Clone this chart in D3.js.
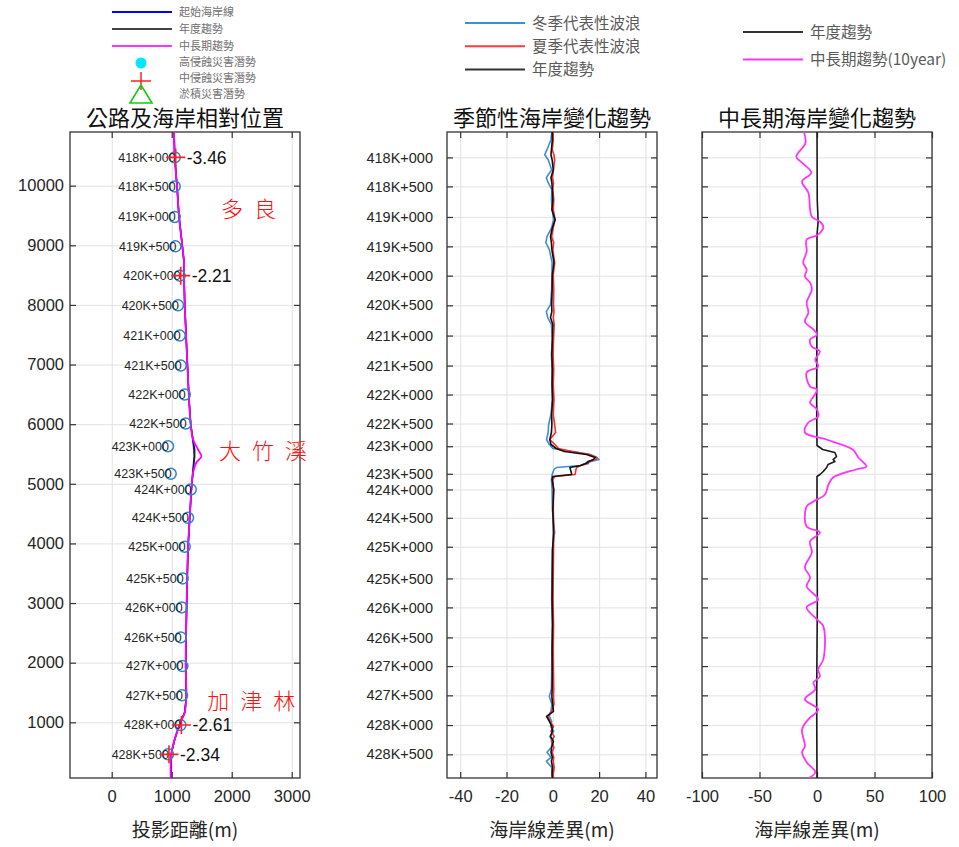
<!DOCTYPE html>
<html>
<head>
<meta charset="utf-8">
<title>海岸變化趨勢</title>
<script src="https://cdn.jsdelivr.net/npm/d3@7"></script>
<style>
  body { margin: 0; background: #fff; }
  .lat { font-family: "Liberation Sans", Arial, sans-serif; }
  .cjk { font-family: "Noto Sans CJK TC", "Noto Sans", sans-serif; }
</style>
</head>
<body>
<svg id="chart" width="959" height="847"></svg>
<script>
// ---- panel 1: road & coast, projected distance (m) vs along-shore position (m)
var coastY      = [10938,10486,9983,9480,8978,8709,8475,8005,7251,6413,5994,5743,5575,5458,5357,5190,4905,4424,3932,3061,1938,1435,1167,966,715,480,11];
var coastStart  = [1039,1050,1089,1122,1178,1206,1206,1217,1250,1289,1317,1350,1370,1375,1365,1350,1328,1300,1272,1250,1233,1244,1217,1133,1050,994,983];
var coastAnnual = [1039,1050,1089,1122,1178,1206,1206,1217,1250,1289,1317,1356,1383,1383,1372,1356,1328,1300,1272,1250,1233,1244,1217,1133,1050,994,983];
var coastMid    = [1039,1050,1089,1122,1178,1206,1206,1217,1250,1289,1317,1356,1439,1494,1411,1356,1328,1300,1272,1250,1233,1244,1217,1133,1050,994,983];

var mileage = ["418K+000","418K+500","419K+000","419K+500","420K+000","420K+500","421K+000","421K+500",
               "422K+000","422K+500","423K+000","423K+500","424K+000","424K+500","425K+000","425K+500",
               "426K+000","426K+500","427K+000","427K+500","428K+000","428K+500"];
var mileY = [10474,9988,9475,8982,8491,7993,7486,6983,6497,6011,5630,5168,4905,4430,3944,3413,2927,2424,1943,1452,954,463];
var mileX = [1050,1050,1050,1062,1133,1105,1133,1150,1217,1233,938,983,1317,1272,1217,1183,1167,1150,1178,1172,1145,938];

var hazardMile = ["418K+000","420K+000","428K+000","428K+500"];
var hazardVal  = [-3.46,-2.21,-2.61,-2.34];

var places = ["多良","大竹溪","加津林"];
var placeX = [1823,1790,1592];
var placeY = [9600,5550,1360];

// ---- panel 2: seasonal shoreline difference (m)
var p2Y = [10938,10771,10603,10519,10435,10268,10134,10050,9933,9765,9598,9430,9296,9145,9044,8927,8709,8508,8257,8005,
           7888,7788,7670,7419,7167,6916,6664,6413,6162,5994,5860,5743,5659,5592,5541,5491,5441,5407,5374,5340,
           5307,5273,5240,5190,5156,5123,5072,4905,4570,4184,3899,3480,3061,2642,2224,1804,1553,1435,1301,1184,
           1100,1016,932,849,765,681,581,497,413,346,245,128,11];
var winter = [-0.3,-0.8,-2.5,-3.5,-2,-0.5,-2.8,-2,-0.4,-0.6,-0.2,0.3,-0.5,-2.5,-3,-1.5,-0.3,-0.4,-0.5,-1,
              -2.8,-2.2,-0.6,-0.2,-0.6,-0.3,-0.4,-0.2,-0.8,-1.8,-2,-2.7,-1.5,0,9,16,19,20,16.5,14,
              12,1.6,0.5,0,-0.3,-0.4,-0.6,-0.3,-0.2,0.8,-0.2,-0.4,-0.5,-0.2,-0.4,-0.5,-0.6,-1.5,-0.4,-0.8,
              -1.5,-0.5,-1,0.4,-1.2,-0.3,-0.6,-2.5,-0.8,-2.8,-0.5,-0.4,-0.3];
var summer = [0,0.2,-0.3,0.5,0.8,0.3,-0.2,0.3,0,0.4,0.2,1,0.2,-0.5,0.4,0,0.8,0.2,0.4,0.3,
              0.5,0.2,0.6,0.3,0.1,0.4,0.2,0.5,0.2,0.8,1.2,-1.3,0.9,2.5,8,16,19,18.5,15,15.4,
              12,10.3,10,9.8,9.6,0.9,0,0.3,0.2,0.4,0.3,0.2,0.1,0.3,0.2,0.3,0.4,0.3,0.5,-0.5,
              -2.2,-1.2,0.3,-0.8,0.6,-0.6,0.5,-0.3,0.4,0.2,0.6,0.2,0.3];
var annual = [-0.3,-0.2,-0.6,-0.8,-0.3,0.2,-0.8,-0.4,-0.2,0,-0.4,1,-0.2,-1,-0.6,-0.4,0.5,-0.2,-0.3,-0.5,
              -0.4,-1,0,-0.2,-0.4,-0.2,-0.3,-0.1,-0.5,-0.4,-0.6,-1.3,-0.8,1.5,5,14.6,18.3,17.5,15.5,14.2,
              12,7.4,7.6,8,8.1,0,-0.3,0.4,0,0.3,-0.1,-0.2,-0.3,-0.1,-0.3,-0.2,-0.3,-0.4,-0.1,0.3,
              -2.7,-1.5,-0.4,-0.2,-1,0.3,-0.5,-0.8,-0.2,-0.6,-0.1,-0.3,0];

// ---- panel 3: mid/long term shoreline difference (m)
var p3Y      = [10938,9765,9396,9179,8089,6413,5642,5575,5525,5458,5407,5374,5324,5273,5206,5156,5123,4402,3061,1385,11];
var p3Annual = [0,0.2,1,0,0,-0.3,0,5,15.5,17,14,15.6,9.6,8.4,5.4,2.6,0,0,0.3,-0.3,0];
var midY  = [10938,10720,10486,10385,10218,10067,9882,9598,9480,9396,9313,9179,9095,8894,8709,8592,8475,8374,8257,8039,
             7871,7720,7586,7502,7419,7301,7218,7083,6966,6866,6630,6581,6463,6363,6245,6128,6028,5860,5743,5575,
             5441,5290,5240,5106,4988,4821,4704,4620,4285,4184,4033,3849,3597,3430,3279,3061,2927,2726,2609,2055,
             1888,1770,1670,1553,1385,1217,1050,882,597,497,329,162,44];
var mid10 = [-12,-10,-18,-13,-5,-13,-7.5,-6,-4.5,2.5,5.5,1,-9,-9,-12,-9,-10.5,-6,-4.5,-9,
             -7.5,-10.5,-3,0,-6,-4.5,2.5,-1.5,1,-9,-6,0,-3,-6,0,1,-7.5,-10.5,8,31,
             36,43,34,14,10,7,-3,-9,-9,2.5,-6,-4.5,-10.5,-6,-9,1,-9,0,5.5,5.5,
             1,2.5,-3,-1.5,-10.5,1,-7.5,-13,-10.5,-13,-9,-1.5,-9];

var svg = d3.select("#chart");
var TOP = 132, BOT = 778, TXT = "#262626";

var y = d3.scaleLinear().domain([66, 10900]).range([BOT, TOP]);
var x1 = d3.scaleLinear().domain([-695, 3138]).range([70, 300]);
var x2 = d3.scaleLinear().domain([-45.7, 45]).range([447, 657]);
var x3 = d3.scaleLinear().domain([-100, 100]).range([702, 932]);

function frame(x, yTicks, yFmt, yPad, yFont, xTicks) {
  var g = svg.append("g");
  var L = x.range()[0], R = x.range()[1];
  // grid
  g.append("g").attr("transform", "translate(0," + BOT + ")")
    .call(d3.axisBottom(x).tickValues(xTicks).tickSize(-(BOT - TOP)).tickFormat(""))
    .call(function(a) { a.select(".domain").remove(); })
    .selectAll("line").attr("stroke", "#e2e2e2");
  g.append("g").attr("transform", "translate(" + L + ",0)")
    .call(d3.axisLeft(y).tickValues(yTicks).tickSize(-(R - L)).tickFormat(""))
    .call(function(a) { a.select(".domain").remove(); })
    .selectAll("line").attr("stroke", "#e2e2e2");
  // ticks on all 4 sides
  var axes = [
    [d3.axisBottom(x).tickValues(xTicks).tickPadding(12).tickFormat(function(d) { return String(d); }), "translate(0," + BOT + ")"],
    [d3.axisTop(x).tickValues(xTicks).tickFormat(""), "translate(0," + TOP + ")"],
    [d3.axisLeft(y).tickValues(yTicks).tickPadding(yPad).tickFormat(yFmt), "translate(" + L + ",0)"],
    [d3.axisRight(y).tickValues(yTicks).tickFormat(""), "translate(" + R + ",0)"]
  ];
  axes.forEach(function(a, i) {
    var ag = g.append("g").attr("transform", a[1]).call(a[0].tickSize(-6));
    ag.select(".domain").remove();
    ag.selectAll("line").attr("stroke", "#333").attr("stroke-width", 1.2);
    ag.attr("font-family", null).attr("font-size", null);
    ag.selectAll("text").attr("class", "lat").attr("fill", TXT)
      .attr("font-size", i == 2 ? yFont : 16.5);
  });
  g.append("rect").attr("x", L).attr("y", TOP).attr("width", R - L).attr("height", BOT - TOP)
    .attr("fill", "none").attr("stroke", "#333").attr("stroke-width", 1.3);
  return g;
}

function clip(id, x) {
  svg.append("clipPath").attr("id", id).append("rect")
    .attr("x", x.range()[0]).attr("y", TOP).attr("width", x.range()[1] - x.range()[0]).attr("height", BOT - TOP);
}

function drawLine(x, ys, vs, color, width, clipId, curve) {
  var line = d3.line().x(function(d) { return x(d[1]); }).y(function(d) { return y(d[0]); })
    .curve(curve || d3.curveLinear);
  svg.append("path").datum(d3.zip(ys, vs)).attr("d", line)
    .attr("fill", "none").attr("stroke", color).attr("stroke-width", width)
    .attr("stroke-linejoin", "round").attr("clip-path", "url(#" + clipId + ")");
}

function title(text, cx) {
  svg.append("text").attr("class", "cjk").attr("x", cx).attr("y", 118).attr("dy", "0.35em")
    .attr("text-anchor", "middle").attr("font-size", 22).attr("fill", "#111").text(text);
}
function xlabel(text, cx) {
  svg.append("text").attr("class", "cjk").attr("x", cx).attr("y", 830).attr("dy", "0.35em")
    .attr("text-anchor", "middle").attr("font-size", 19).attr("fill", TXT).text(text);
}

clip("c1", x1); clip("c2", x2); clip("c3", x3);

// ---- panel 1
frame(x1, d3.range(1000, 10001, 1000), function(d) { return String(d); }, 6, 16.5, [0, 1000, 2000, 3000]);
drawLine(x1, coastY, coastStart, "#0000ff", 1.5, "c1");
drawLine(x1, coastY, coastAnnual, "#222", 1.5, "c1");
drawLine(x1, coastY, coastMid, "#ff00ff", 1.8, "c1", d3.curveCatmullRom);

var p1 = svg.append("g");
p1.selectAll("circle").data(mileage).join("circle")
  .attr("cx", function(d, i) { return x1(mileX[i]); })
  .attr("cy", function(d, i) { return y(mileY[i]); })
  .attr("r", 5.5).attr("fill", "none").attr("stroke", "#2f83cc").attr("stroke-width", 1.5);
p1.selectAll("text.mile").data(mileage).join("text").attr("class", "lat mile")
  .attr("x", function(d, i) { return x1(mileX[i]) + 1; })
  .attr("y", function(d, i) { return y(mileY[i]); })
  .attr("dy", "0.35em").attr("text-anchor", "end").attr("font-size", 12.5).attr("fill", TXT)
  .text(function(d) { return d; });

hazardMile.forEach(function(m, k) {
  var i = mileage.indexOf(m), cx = x1(mileX[i]) + 1, cy = y(mileY[i]);
  p1.append("path").attr("d", "M" + (cx - 9.5) + "," + cy + "H" + (cx + 9.5) + "M" + cx + "," + (cy - 9) + "V" + (cy + 9))
    .attr("stroke", "#ff2020").attr("stroke-width", 1.6);
  p1.append("text").attr("class", "lat").attr("x", cx + 11).attr("y", cy).attr("dy", "0.36em")
    .attr("font-size", 17.5).attr("fill", "#111").text(hazardVal[k].toFixed(2));
});

places.forEach(function(p, i) {
  p1.append("text").attr("class", "cjk").attr("x", x1(placeX[i])).attr("y", y(placeY[i])).attr("dy", "0.36em")
    .attr("font-size", 22).attr("font-weight", 300).attr("letter-spacing", 11).attr("fill", "#ff1010").text(p);
});

title("公路及海岸相對位置", 185);
xlabel("投影距離(m)", 185);

// ---- panel 2
frame(x2, mileY, function(d, i) { return mileage[i]; }, 14, 14.5, [-40, -20, 0, 20, 40]);
drawLine(x2, p2Y, winter, "#3b8ed8", 1.6, "c2");
drawLine(x2, p2Y, summer, "#ff2a2a", 1.6, "c2");
drawLine(x2, p2Y, annual, "#111", 1.6, "c2");
title("季節性海岸變化趨勢", 552);
xlabel("海岸線差異(m)", 552);

// ---- panel 3
frame(x3, mileY, function() { return ""; }, 6, 14.5, [-100, -50, 0, 50, 100]);
drawLine(x3, p3Y, p3Annual, "#1a1a1a", 1.6, "c3");
drawLine(x3, midY, mid10, "#ff33ff", 1.8, "c3", d3.curveCatmullRom);
title("中長期海岸變化趨勢", 817);
xlabel("海岸線差異(m)", 817);

// ---- legends
function legendLines(x0, y0, dy, len, items, colors, fs, fill) {
  var lg = svg.append("g");
  items.forEach(function(t, i) {
    var yy = y0 + i * dy;
    lg.append("line").attr("x1", x0).attr("x2", x0 + len).attr("y1", yy).attr("y2", yy)
      .attr("stroke", colors[i]).attr("stroke-width", 2);
    lg.append("text").attr("class", "cjk").attr("x", x0 + len + 7).attr("y", yy).attr("dy", "0.36em")
      .attr("font-size", fs).attr("fill", fill).text(t);
  });
  return lg;
}

var lg1 = legendLines(112, 12, 17, 60, ["起始海岸線", "年度趨勢", "中長期趨勢"], ["#0000ff", "#444", "#ff33ff"], 11, "#707070");
var symText = ["高侵蝕災害潛勢", "中侵蝕災害潛勢", "淤積災害潛勢"];
[62, 78, 94].forEach(function(yy, i) {
  lg1.append("text").attr("class", "cjk").attr("x", 179).attr("y", yy).attr("dy", "0.36em")
    .attr("font-size", 11).attr("fill", "#707070").text(symText[i]);
});
lg1.append("circle").attr("cx", 141).attr("cy", 63).attr("r", 5.5).attr("fill", "#00e6ff");
lg1.append("path").attr("d", "M131,81H151M141,72V90").attr("stroke", "#f22").attr("stroke-width", 1.5);
lg1.append("path").attr("d", "M141,85L130,103L152,103Z").attr("fill", "none").attr("stroke", "#11cc11").attr("stroke-width", 1.6);

legendLines(465, 23, 23.3, 60, ["冬季代表性波浪", "夏季代表性波浪", "年度趨勢"], ["#3b8ed8", "#ff3a3a", "#333"], 15.5, "#5a5a5a");
legendLines(743, 32, 27.5, 60, ["年度趨勢", "中長期趨勢(10year)"], ["#333", "#ff33ff"], 15.5, "#5a5a5a");
</script>
</body>
</html>
